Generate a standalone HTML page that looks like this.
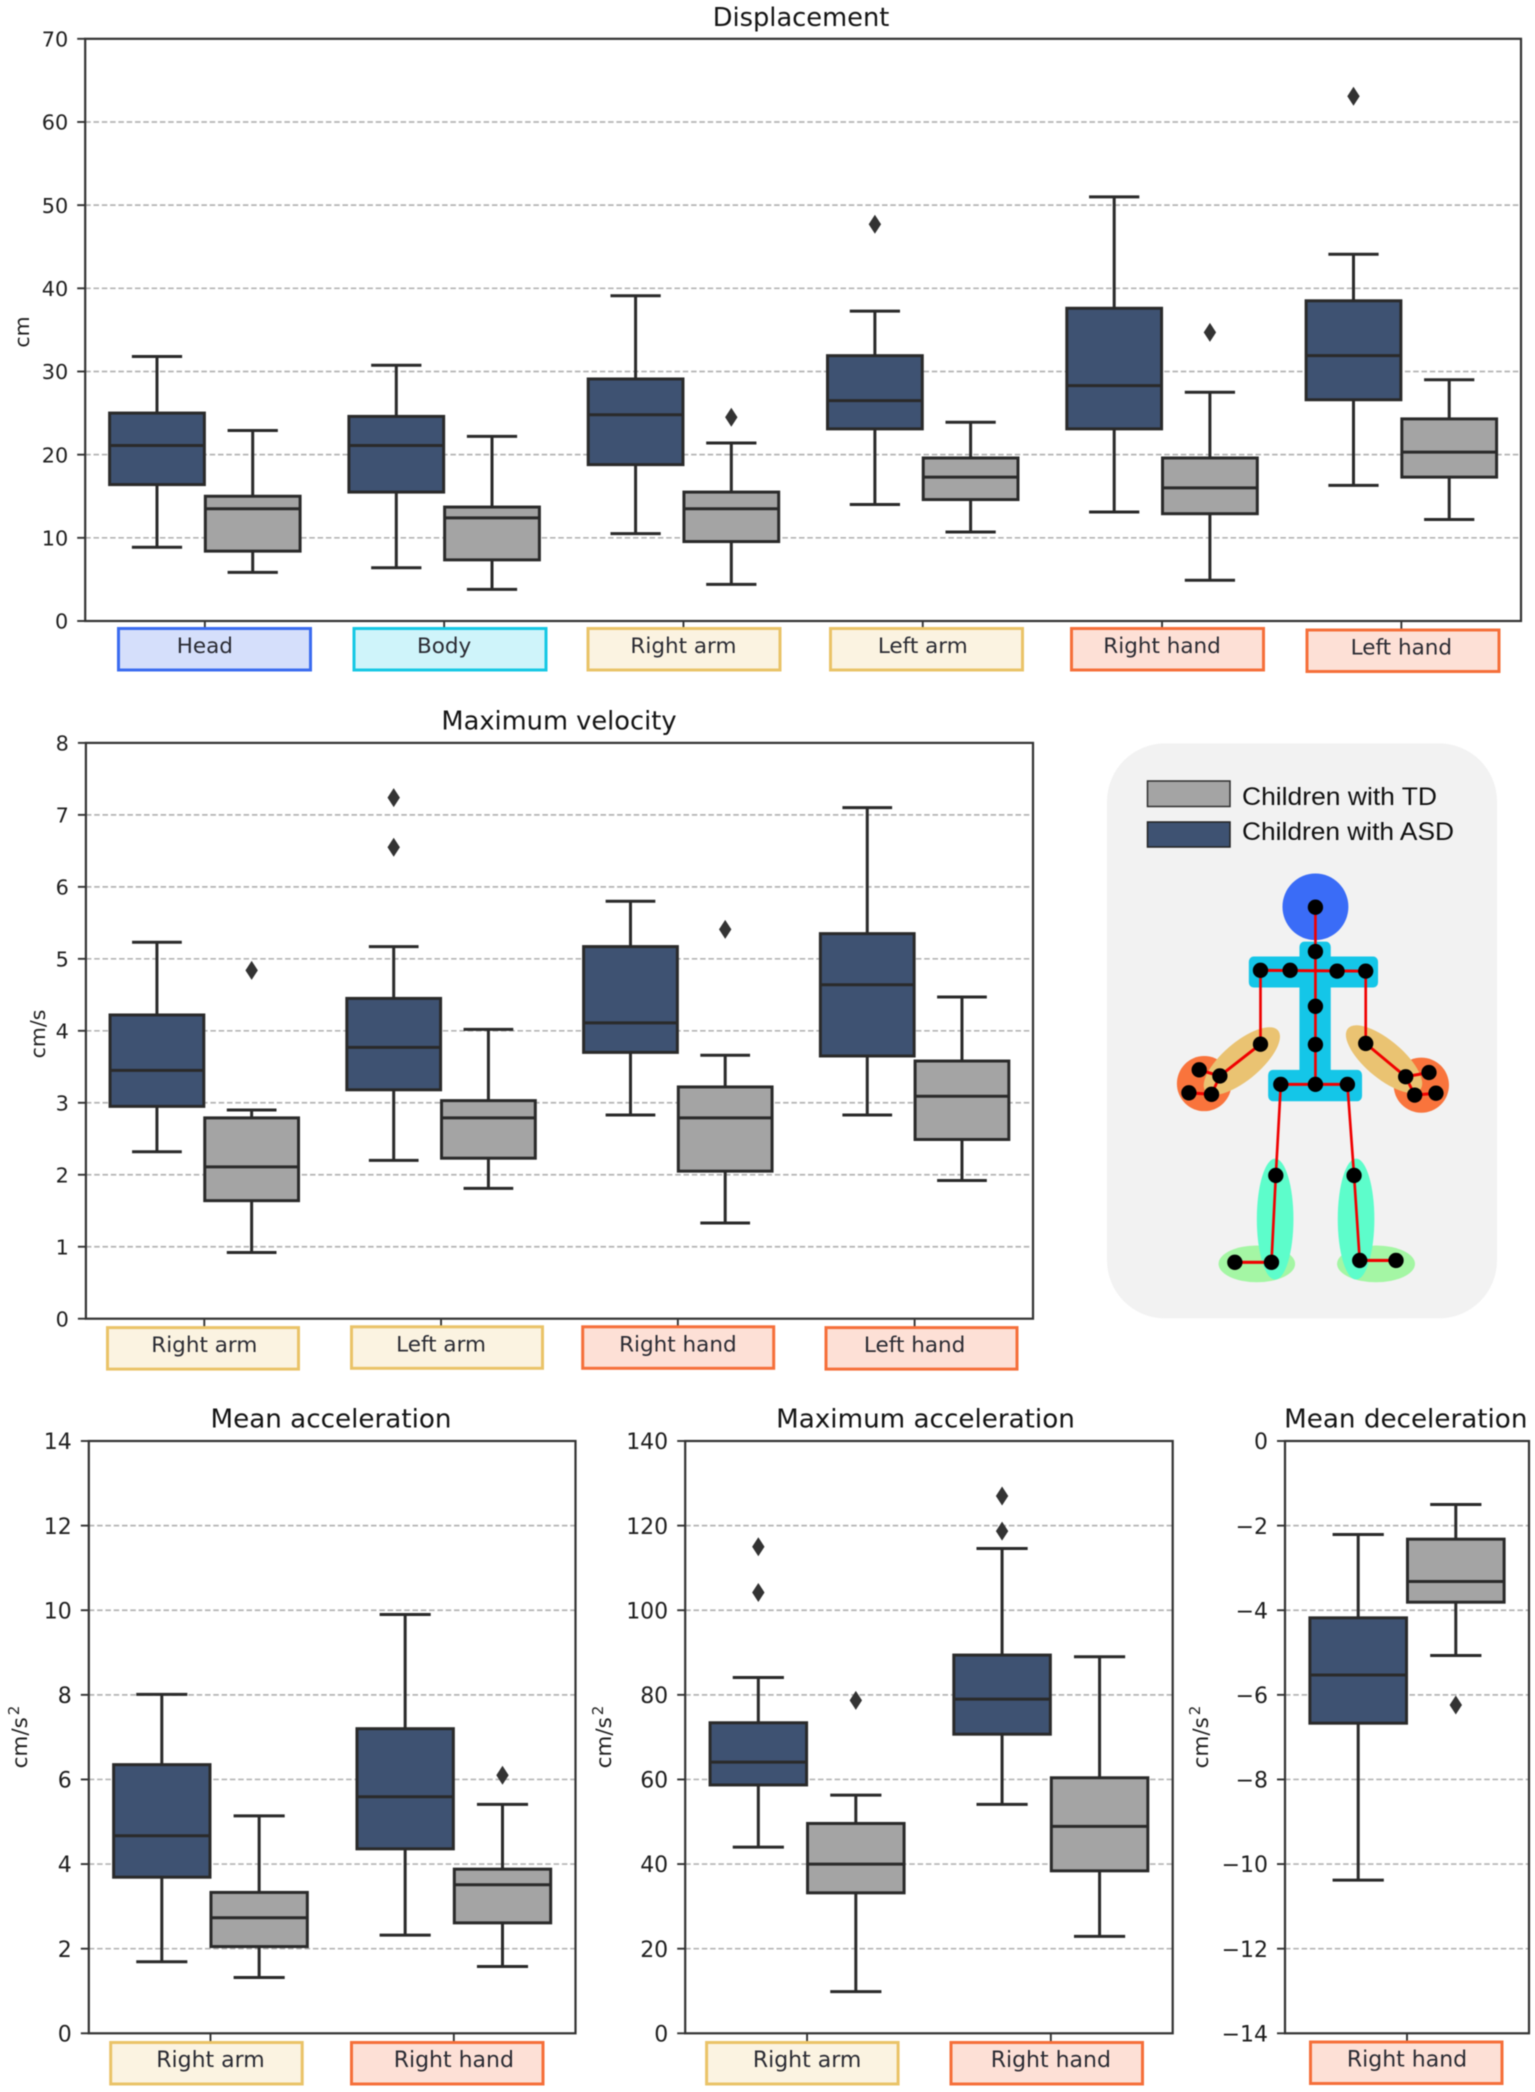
<!DOCTYPE html>
<html lang="en">
<head>
<meta charset="utf-8">
<title>Movement kinematics box plots</title>
<style>
html,body{margin:0;padding:0;background:#fff;}
svg{display:block;filter:blur(0.45px);}
text{font-family:"DejaVu Sans","Liberation Sans",sans-serif;}
</style>
</head>
<body>
<svg id="figure" xmlns="http://www.w3.org/2000/svg" width="1535" height="2092" viewBox="0 0 1535 2092">
  <g id="charts"></g>
  <g>
    <rect x="1107" y="743.4" width="390" height="575" rx="58" ry="58" fill="#f2f2f2"/>
    <rect x="1147.5" y="781" width="82.5" height="25.5" fill="#a4a4a4" stroke="#2e2e2e" stroke-width="1.5"/>
    <text x="1242" y="805" font-size="25" fill="#111" textLength="195" lengthAdjust="spacingAndGlyphs" style="font-family:'Liberation Sans',sans-serif">Children with TD</text>
    <rect x="1147.5" y="822" width="82.5" height="25" fill="#3e5272" stroke="#222" stroke-width="1.5"/>
    <text x="1242" y="840" font-size="25" fill="#111" textLength="212" lengthAdjust="spacingAndGlyphs" style="font-family:'Liberation Sans',sans-serif">Children with ASD</text>
    <g transform="translate(1081 730) scale(0.333 0.3827)">
      <ellipse cx="704" cy="462" rx="99" ry="87" fill="#3a6cf7"/>
      <g fill="#14c6e8">
        <rect x="656" y="553" width="94" height="380" rx="14"/>
        <rect x="504" y="592" width="388" height="81" rx="14"/>
        <rect x="562" y="888" width="282" height="82" rx="14"/>
      </g>
      <ellipse cx="370" cy="924" rx="82" ry="72" fill="#f9743c"/>
      <ellipse cx="1022" cy="928" rx="83" ry="72" fill="#f9743c"/>
      <ellipse cx="483" cy="865" rx="135" ry="52" transform="rotate(-35 483 865)" fill="#eac372"/>
      <ellipse cx="910" cy="860" rx="135" ry="52" transform="rotate(35 910 860)" fill="#eac372"/>
      <ellipse cx="528" cy="1395" rx="115" ry="48" fill="#a4f6a4"/>
      <ellipse cx="886" cy="1395" rx="117" ry="48" fill="#a4f6a4"/>
      <ellipse cx="583" cy="1278" rx="55" ry="158" fill="#5dfdcb"/>
      <ellipse cx="826" cy="1278" rx="55" ry="158" fill="#5dfdcb"/>
      <g fill="none" stroke="#f00000" stroke-width="8">
        <polyline points="704,463 704,926"/>
        <polyline points="539,628 855,630"/>
        <polyline points="539,628 539,821 417,904 392,952 324,948"/>
        <polyline points="417,904 355,888"/>
        <polyline points="855,630 855,819 975,906 1002,954 1066,949"/>
        <polyline points="975,906 1045,895"/>
        <polyline points="600,926 800,926"/>
        <polyline points="600,926 585,1164 572,1391 462,1391"/>
        <polyline points="800,926 820,1164 837,1386 946,1386"/>
      </g>
      <g fill="#000">
        <ellipse cx="704" cy="463" rx="23" ry="20"/><ellipse cx="704" cy="579" rx="23" ry="20"/>
        <ellipse cx="539" cy="628" rx="23" ry="20"/><ellipse cx="628" cy="628" rx="23" ry="20"/>
        <ellipse cx="769" cy="630" rx="23" ry="20"/><ellipse cx="855" cy="630" rx="23" ry="20"/>
        <ellipse cx="704" cy="722" rx="23" ry="20"/><ellipse cx="704" cy="822" rx="23" ry="20"/>
        <ellipse cx="704" cy="926" rx="23" ry="20"/><ellipse cx="600" cy="926" rx="23" ry="20"/>
        <ellipse cx="800" cy="926" rx="23" ry="20"/><ellipse cx="539" cy="821" rx="23" ry="20"/>
        <ellipse cx="417" cy="904" rx="23" ry="20"/><ellipse cx="355" cy="888" rx="23" ry="20"/>
        <ellipse cx="392" cy="952" rx="23" ry="20"/><ellipse cx="324" cy="948" rx="23" ry="20"/>
        <ellipse cx="855" cy="819" rx="23" ry="20"/><ellipse cx="975" cy="906" rx="23" ry="20"/>
        <ellipse cx="1045" cy="895" rx="23" ry="20"/><ellipse cx="1002" cy="954" rx="23" ry="20"/>
        <ellipse cx="1066" cy="949" rx="23" ry="20"/><ellipse cx="585" cy="1164" rx="23" ry="20"/>
        <ellipse cx="572" cy="1391" rx="23" ry="20"/><ellipse cx="462" cy="1391" rx="23" ry="20"/>
        <ellipse cx="820" cy="1164" rx="23" ry="20"/><ellipse cx="837" cy="1386" rx="23" ry="20"/>
        <ellipse cx="946" cy="1386" rx="23" ry="20"/>
      </g>
    </g>
  </g>
</svg>
<script>
/* Each box row: [whisker low, q1, median, q3, whisker high] */
const displacementCategories = ['Head', 'Body', 'Right arm', 'Left arm', 'Right hand', 'Left hand'];
const displacementTicks = [0, 10, 20, 30, 40, 50, 60, 70];
const displacementAsd = [
  [8.86, 16.4, 21.1, 25.0, 31.8],
  [6.4, 15.5, 21.1, 24.6, 30.75],
  [10.5, 18.8, 24.8, 29.1, 39.1],
  [14.0, 23.1, 26.5, 31.9, 37.25],
  [13.1, 23.1, 28.3, 37.6, 51.0],
  [16.3, 26.6, 31.9, 38.5, 44.1]
];
const displacementTd = [
  [5.85, 8.4, 13.5, 15.0, 22.9],
  [3.8, 7.35, 12.4, 13.7, 22.2],
  [4.4, 9.55, 13.5, 15.5, 21.4],
  [10.7, 14.6, 17.3, 19.6, 23.9],
  [4.9, 12.9, 16.0, 19.6, 27.5],
  [12.2, 17.3, 20.3, 24.3, 29.0]
];
const displacementAsdOutliers = [[], [], [], [47.7], [], [63.1]];
const displacementTdOutliers = [[], [], [24.5], [], [34.7], []];

const velocityCategories = ['Right arm', 'Left arm', 'Right hand', 'Left hand'];
const velocityTicks = [0, 1, 2, 3, 4, 5, 6, 7, 8];
const velocityAsd = [
  [2.32, 2.95, 3.45, 4.22, 5.23],
  [2.2, 3.18, 3.77, 4.45, 5.17],
  [2.83, 3.7, 4.11, 5.17, 5.8],
  [2.83, 3.65, 4.64, 5.35, 7.1]
];
const velocityTd = [
  [0.92, 1.64, 2.11, 2.79, 2.9],
  [1.81, 2.23, 2.79, 3.03, 4.02],
  [1.33, 2.05, 2.79, 3.22, 3.66],
  [1.92, 2.49, 3.09, 3.58, 4.47]
];
const velocityAsdOutliers = [[], [7.24, 6.55], [], []];
const velocityTdOutliers = [[4.84], [], [5.41], []];

const meanAccelCategories = ['Right arm', 'Right hand'];
const meanAccelTicks = [0, 2, 4, 6, 8, 10, 12, 14];
const meanAccelAsd = [
  [1.69, 3.69, 4.67, 6.35, 8.01],
  [2.32, 4.36, 5.59, 7.2, 9.9]
];
const meanAccelTd = [
  [1.32, 2.05, 2.73, 3.33, 5.14],
  [1.58, 2.61, 3.51, 3.88, 5.41]
];
const meanAccelAsdOutliers = [[], []];
const meanAccelTdOutliers = [[], [6.1]];

const maxAccelCategories = ['Right arm', 'Right hand'];
const maxAccelTicks = [0, 20, 40, 60, 80, 100, 120, 140];
const maxAccelAsd = [
  [44.0, 58.7, 64.1, 73.4, 84.1],
  [54.1, 70.7, 79.0, 89.4, 114.6]
];
const maxAccelTd = [
  [9.84, 33.2, 40.0, 49.6, 56.3],
  [22.9, 38.4, 48.9, 60.4, 89.0]
];
const maxAccelAsdOutliers = [[115.0, 104.2], [127.0, 118.7]];
const maxAccelTdOutliers = [[78.7], []];

const meanDecelCategories = ['Right hand'];
const meanDecelTicks = [-14, -12, -10, -8, -6, -4, -2, 0];
const meanDecelAsd = [[-10.38, -6.67, -5.53, -4.18, -2.21]];
const meanDecelTd = [[-5.07, -3.81, -3.32, -2.32, -1.5]];
const meanDecelAsdOutliers = [[]];
const meanDecelTdOutliers = [[-6.24]];

const NS = 'http://www.w3.org/2000/svg';
const ASD_FILL = '#3e5272';
const TD_FILL = '#a4a4a4';
const INK = '#2a2a2a';
const armStyle = {fill: '#fbf3e1', stroke: '#eac368'};
const handStyle = {fill: '#fde0d6', stroke: '#f56f3a'};
const categoryStyles = {
  'Head': {fill: '#d5dffb', stroke: '#3b6cf0'},
  'Body': {fill: '#cff4fa', stroke: '#16c8e4'},
  'Right arm': armStyle,
  'Left arm': armStyle,
  'Right hand': handStyle,
  'Left hand': handStyle
};
const root = document.getElementById('charts');

function make(tag, attrs, parent, content) {
  const node = document.createElementNS(NS, tag);
  for (const key in attrs) node.setAttribute(key, attrs[key]);
  if (content !== undefined) node.textContent = content;
  parent.appendChild(node);
  return node;
}
function slug(label) {
  return label.toLowerCase().replace(/[^a-z0-9]+/g, '-');
}

function drawBox(group, row, outliers, cx, halfW, capHalf, y, fill, prefix) {
  const [lo, q1, med, q3, hi] = row;
  const whiskers = make('path', {
    d: 'M' + cx + ' ' + y(q3) + 'V' + y(hi) + 'M' + (cx - capHalf) + ' ' + y(hi) + 'H' + (cx + capHalf) +
       'M' + cx + ' ' + y(q1) + 'V' + y(lo) + 'M' + (cx - capHalf) + ' ' + y(lo) + 'H' + (cx + capHalf),
    fill: 'none', stroke: INK, 'stroke-width': 3
  }, group);
  
  

  const box = make('rect', {
    x: cx - halfW, y: y(q3), width: halfW * 2, height: y(q1) - y(q3),
    fill: fill, stroke: INK, 'stroke-width': 3
  }, group);
  
  

  const median = make('line', {
    x1: cx - halfW, x2: cx + halfW, y1: y(med), y2: y(med), stroke: INK, 'stroke-width': 3
  }, group);
  
  

  outliers.forEach(function (value) {
    const py = y(value);
    const mark = make('polygon', {
      points: cx + ',' + (py - 9.5) + ' ' + (cx + 6.2) + ',' + py + ' ' + cx + ',' + (py + 9.5) + ' ' + (cx - 6.2) + ',' + py,
      fill: '#333'
    }, group);
    
    
  });
}

function drawChart(c) {
  const g = make('g', {}, root);
  
  
  const yMin = Math.min.apply(null, c.ticks);
  const yMax = Math.max.apply(null, c.ticks);
  const y = function (v) { return c.bottom - (v - yMin) / (yMax - yMin) * (c.bottom - c.top); };
  const band = (c.right - c.left) / c.categories.length;
  const x = function (i) { return c.left + (i + 0.5) * band; };

  c.ticks.forEach(function (t) {
    if (t !== yMin && t !== yMax) {
      const grid = make('line', {
        x1: c.left, x2: c.right, y1: y(t), y2: y(t), stroke: '#b4b4b4', 'stroke-width': 1.7, 'stroke-dasharray': '5.5 2.8'
      }, g);
      
      
    }
    const tick = make('line', {
      x1: c.left - 8, x2: c.left, y1: y(t), y2: y(t), stroke: '#333', 'stroke-width': 1.9
    }, g);
    
    
    const label = make('text', {
      x: c.left - 17, y: y(t) + c.tickFont * 0.37, 'text-anchor': 'end', 'font-size': c.tickFont, fill: '#1f1f1f'
    }, g, String(t).replace('-', '\u2212'));
    
    
  });

  const halfW = band * 0.198;
  const capHalf = band * 0.105;
  c.categories.forEach(function (name, i) {
    const key = slug(name);
    drawBox(g, c.asd[i], c.asdOut[i], x(i) - band * 0.2, halfW, capHalf, y, ASD_FILL, key + '-asd');
    drawBox(g, c.td[i], c.tdOut[i], x(i) + band * 0.2, halfW, capHalf, y, TD_FILL, key + '-td');

    const tick = make('line', {
      x1: x(i), x2: x(i), y1: c.bottom, y2: c.bottom + 8, stroke: '#333', 'stroke-width': 1.9
    }, g);
    
    

    const style = categoryStyles[name];
    const place = c.labelBoxes[i];
    const chip = make('rect', {
      x: place[0], y: place[1], width: c.labelWidth, height: 41.5,
      fill: style.fill, stroke: style.stroke, 'stroke-width': 3
    }, g);
    
    
    const label = make('text', {
      x: x(i), y: place[1] + 24.5, 'text-anchor': 'middle', 'font-size': c.labelFont, fill: '#2a2b33'
    }, g, name);
    
    
  });

  const frame = make('rect', {
    x: c.left, y: c.top, width: c.right - c.left, height: c.bottom - c.top,
    fill: 'none', stroke: '#333', 'stroke-width': 2.2
  }, g);
  
  

  const title = make('text', {
    x: c.titleX, y: c.titleY, 'text-anchor': 'middle', 'font-size': c.titleFont, fill: '#141414'
  }, g, c.title);
  
  

  const axisTitle = make('text', {
    x: 0, y: 0, 'text-anchor': 'middle', 'font-size': c.axisFont, fill: '#1f1f1f',
    transform: 'translate(' + c.yLabelX + ' ' + c.yLabelY + ') rotate(-90)'
  }, g, c.yLabel);
  if (c.yLabelSup) {
    const sup = make('tspan', {dx: 2, dy: -8, 'font-size': c.axisFont * 0.7}, axisTitle, c.yLabelSup);
    
    
  }
  
  
}

drawChart({
  id: 'displacement', title: 'Displacement', titleX: 801, titleY: 26,
  yLabel: 'cm', yLabelX: 29, yLabelY: 332,
  titleFont: 25.7, tickFont: 20.8, labelFont: 21.5, axisFont: 20.5,
  left: 85.2, right: 1521, top: 38.8, bottom: 621,
  ticks: displacementTicks, categories: displacementCategories,
  asd: displacementAsd, td: displacementTd,
  asdOut: displacementAsdOutliers, tdOut: displacementTdOutliers,
  labelWidth: 192,
  labelBoxes: [[118.5, 628.5], [354, 628.5], [588, 628.5], [830.5, 628.5], [1071.5, 628.5], [1307, 630]]
});

drawChart({
  id: 'maximum-velocity', title: 'Maximum velocity', titleX: 559, titleY: 729.5,
  yLabel: 'cm/s', yLabelX: 45, yLabelY: 1034,
  titleFont: 25.7, tickFont: 20.8, labelFont: 21.5, axisFont: 20.5,
  left: 85.9, right: 1033, top: 742.9, bottom: 1318.7,
  ticks: velocityTicks, categories: velocityCategories,
  asd: velocityAsd, td: velocityTd,
  asdOut: velocityAsdOutliers, tdOut: velocityTdOutliers,
  labelWidth: 191,
  labelBoxes: [[107.5, 1327.6], [351.5, 1326.8], [582.7, 1326.8], [826, 1327.6]]
});

drawChart({
  id: 'mean-acceleration', title: 'Mean acceleration', titleX: 331, titleY: 1427.5,
  yLabel: 'cm/s', yLabelSup: '2', yLabelX: 27, yLabelY: 1737,
  titleFont: 26.2, tickFont: 22, labelFont: 22, axisFont: 21.5,
  left: 88.8, right: 575.5, top: 1441, bottom: 2033.3,
  ticks: meanAccelTicks, categories: meanAccelCategories,
  asd: meanAccelAsd, td: meanAccelTd,
  asdOut: meanAccelAsdOutliers, tdOut: meanAccelTdOutliers,
  labelWidth: 191.5,
  labelBoxes: [[110.7, 2042.5], [351.5, 2042.5]]
});

drawChart({
  id: 'maximum-acceleration', title: 'Maximum acceleration', titleX: 925.5, titleY: 1427.5,
  yLabel: 'cm/s', yLabelSup: '2', yLabelX: 611, yLabelY: 1737,
  titleFont: 26.2, tickFont: 22, labelFont: 22, axisFont: 21.5,
  left: 685.2, right: 1172.7, top: 1441, bottom: 2033.3,
  ticks: maxAccelTicks, categories: maxAccelCategories,
  asd: maxAccelAsd, td: maxAccelTd,
  asdOut: maxAccelAsdOutliers, tdOut: maxAccelTdOutliers,
  labelWidth: 191.5,
  labelBoxes: [[706.6, 2042.5], [951, 2042.5]]
});

drawChart({
  id: 'mean-deceleration', title: 'Mean deceleration', titleX: 1405.8, titleY: 1427.5,
  yLabel: 'cm/s', yLabelSup: '2', yLabelX: 1208, yLabelY: 1737,
  titleFont: 26.2, tickFont: 22, labelFont: 22, axisFont: 21.5,
  left: 1285, right: 1529, top: 1441, bottom: 2033.3,
  ticks: meanDecelTicks, categories: meanDecelCategories,
  asd: meanDecelAsd, td: meanDecelTd,
  asdOut: meanDecelAsdOutliers, tdOut: meanDecelTdOutliers,
  labelWidth: 191.5,
  labelBoxes: [[1310.5, 2042]]
});
</script>
</body>
</html>
